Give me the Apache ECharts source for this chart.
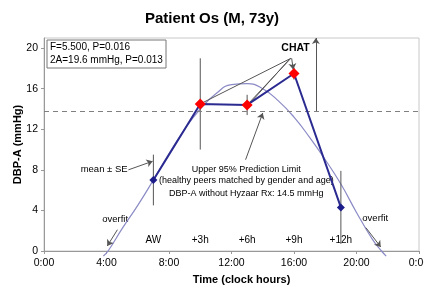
<!DOCTYPE html>
<html>
<head>
<meta charset="utf-8">
<script src="https://cdn.jsdelivr.net/npm/echarts@6/dist/echarts.min.js"></script>
<style>
  html, body { margin: 0; padding: 0; background: #fff; }
  #chart { width: 424px; height: 289px; }
</style>
</head>
<body>
<div id="chart"></div>
<script>
// measured points (clock hour, mean DBP-A, SE)
const hours = [7, 10, 13, 16, 19]
const stageLabels = ['AW', '+3h', '+6h', '+9h', '+12h']
const dbpMean = [7.0, 14.5, 14.4, 17.5, 4.3]
const dbpSE = [2.5, 4.5, 1.0, 0.6, 3.6]
const aboveLimit = [false, true, true, true, false]

// fitted 24h cosine
const fitHours = [3.8, 4.1, 5, 6, 7, 8, 9, 10, 11, 12, 13, 14, 15, 16, 17, 18, 19, 20, 21, 21.6, 21.9]
const fitValues = [-0.5, 0, 2.2, 4.5, 7.0, 9.6, 12.0, 14.0, 15.5, 16.4, 16.5, 16.0, 14.8, 13.2, 11.2, 9.0, 6.6, 3.8, 1.2, 0, -0.5]

const limitValue = 13.8
const yTicks = [0, 4, 8, 12, 16, 20]

const font = 'Liberation Sans, Arial, sans-serif'

var chart = echarts.init(document.getElementById('chart'))

const meanData = hours.map((h, i) => ({
  value: [h, dbpMean[i]],
  itemStyle: { color: aboveLimit[i] ? '#ff0000' : '#1c1c8a' },
  symbolSize: aboveLimit[i] ? 11 : 8,
}))
const seData = hours.map((h, i) => [h, dbpMean[i] - dbpSE[i], dbpMean[i] + dbpSE[i]])
const fitData = fitHours.map((h, i) => [h, fitValues[i]])

// annotation arrows, in data coordinates
function arrow(a, b, head) {
  return [
    { coord: a, symbol: 'none' },
    { coord: b, symbol: head ? 'arrow' : 'none' },
  ]
}

option = {
  animation: false,
  title: {
    text: 'Patient Os (M, 73y)',
    left: 'center',
    top: 6,
    textStyle: { fontFamily: font, fontSize: 15, fontWeight: 'bold', color: '#000' },
  },
  grid: {
    left: 44,
    right: 5,
    top: 38,
    bottom: 38,
    outerBoundsMode: 'none',
    show: true,
    borderColor: '#c8c8c8',
    borderWidth: 1,
  },
  xAxis: {
    type: 'value',
    min: 0,
    max: 24,
    interval: 4,
    name: 'Time (clock hours)',
    nameLocation: 'middle',
    nameGap: 23,
    nameMoveOverlap: false,
    nameTextStyle: { fontFamily: font, fontSize: 11, fontWeight: 'bold', color: '#000', padding: [0, 0, 0, 20] },
    axisLine: { lineStyle: { color: '#999' } },
    axisTick: { length: 3, lineStyle: { color: '#999' } },
    splitLine: { show: false },
    axisLabel: {
      fontFamily: font,
      fontSize: 10.5,
      color: '#000',
      margin: 7,
      formatter: v => (v % 24) + ':00',
    },
  },
  yAxis: {
    type: 'value',
    min: 0,
    max: 21,
    name: 'DBP-A (mmHg)',
    nameLocation: 'middle',
    nameGap: 21,
    nameMoveOverlap: false,
    nameTextStyle: { fontFamily: font, fontSize: 11, fontWeight: 'bold', color: '#000' },
    axisLine: { show: true, lineStyle: { color: '#999' } },
    axisTick: { show: true, length: 3, customValues: yTicks, lineStyle: { color: '#999' } },
    splitLine: { show: false },
    axisLabel: {
      fontFamily: font,
      fontSize: 10.5,
      color: '#000',
      margin: 6,
      customValues: yTicks,
    },
  },
  series: [
    {
      name: 'fit',
      type: 'line',
      data: fitData,
      smooth: true,
      clip: false,
      symbol: 'none',
      lineStyle: { color: '#8a8ac6', width: 1.2 },
      z: 2,
    },
    {
      name: 'limit',
      type: 'line',
      data: [],
      markLine: {
        silent: true,
        symbol: 'none',
        label: { show: false },
        lineStyle: { color: '#808080', type: [5, 4], width: 1 },
        data: [{ yAxis: limitValue }],
      },
    },
    {
      name: 'notes',
      type: 'line',
      data: [],
      markLine: {
        silent: true,
        symbolSize: 6,
        label: { show: false },
        lineStyle: { color: '#555', type: 'solid', width: 1 },
        data: [
          arrow([15.8, 19.0], [10.0, 14.5], false),
          arrow([15.8, 19.0], [13.0, 14.4], false),
          arrow([15.7, 18.9], [13.2, 14.6], false),
          arrow([15.85, 19.0], [15.95, 17.9], true),
          arrow([17.4, limitValue], [17.4, 21], true),
          arrow([5.4, 8.0], [6.95, 8.85], true),
          arrow([4.7, 2.1], [4.05, 0.5], true),
          arrow([20.6, 2.3], [21.55, 0.4], true),
          arrow([12.9, 9.0], [14.0, 13.6], true),
        ],
      },
    },
    {
      name: 'se',
      type: 'custom',
      data: seData,
      renderItem: function (params, api) {
        const lo = api.coord([api.value(0), api.value(1)])
        const hi = api.coord([api.value(0), api.value(2)])
        return {
          type: 'line',
          shape: { x1: lo[0], y1: lo[1], x2: hi[0], y2: hi[1] },
          style: { stroke: '#555', lineWidth: 1 },
        }
      },
      z: 3,
    },
    {
      name: 'mean',
      type: 'line',
      data: meanData,
      symbol: 'diamond',
      lineStyle: { color: '#2a2a90', width: 2 },
      z: 5,
    },
  ],
}

chart.setOption(option)

// text annotations placed from data coordinates
function at(x, y) {
  return chart.convertToPixel({ gridIndex: 0 }, [x, y])
}
function note(text, pos, align, size, bold) {
  return {
    type: 'text',
    x: pos[0],
    y: pos[1],
    style: {
      text: text,
      fill: '#000',
      font: (bold ? 'bold ' : '') + size + 'px ' + font,
      align: align,
      verticalAlign: 'middle',
    },
  }
}

const graphics = []
hours.forEach((h, i) => {
  const p = at(h, 0)
  graphics.push(note(stageLabels[i], [p[0], p[1] - 11], 'center', 10, false))
})
graphics.push(note('CHAT', at(16.1, 20.0), 'center', 10.5, true))
graphics.push(note('mean \u00b1 SE', at(5.35, 8.0), 'right', 9.5, false))
graphics.push(note('overfit', at(4.55, 3.1), 'center', 9.5, false))
graphics.push(note('overfit', at(21.2, 3.2), 'center', 9.5, false))
graphics.push(note('Upper 95% Prediction Limit', at(12.95, 8.0), 'center', 9, false))
graphics.push(note('(healthy peers matched by gender and age)', at(12.95, 6.9), 'center', 9, false))
graphics.push(note('DBP-A without Hyzaar Rx: 14.5 mmHg', at(12.95, 5.7), 'center', 9, false))

graphics.push({
  type: 'rect',
  shape: { x: 47, y: 40, width: 119, height: 28 },
  style: { fill: '#fff', stroke: '#777', lineWidth: 1 },
  z: 10,
})
graphics.push(Object.assign(note('F=5.500, P=0.016', [50, 47.5], 'left', 10, false), { z: 11 }))
graphics.push(Object.assign(note('2A=19.6 mmHg, P=0.013', [50, 60], 'left', 10, false), { z: 11 }))

chart.setOption({ graphic: graphics })
</script>
</body>
</html>
